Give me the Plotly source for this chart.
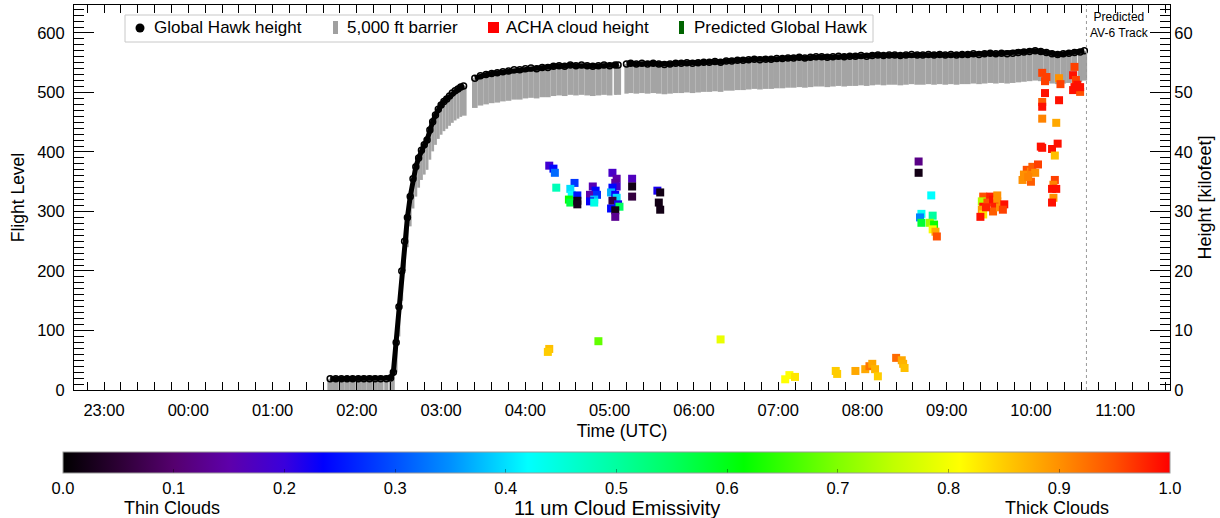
import plotly.graph_objects as go
from datetime import datetime, timedelta

# ---------------------------------------------------------------------------
# Data
# ---------------------------------------------------------------------------
# Global Hawk flight level (hundreds of feet) against UTC clock time
gh_time = [
    "01:41", "01:45", "01:49", "01:53", "01:57", "02:01", "02:05", "02:09", "02:13",
    "02:17", "02:21", "02:24",
    "02:26", "02:28", "02:30", "02:32", "02:34", "02:36", "02:38", "02:40", "02:42",
    "02:44", "02:46", "02:48", "02:50", "02:52", "02:54", "02:56", "02:58", "03:00",
    "03:02", "03:04", "03:06", "03:08", "03:10", "03:12", "03:14", "03:16",
    "03:24", "03:28", "03:32", "03:36", "03:40", "03:44", "03:48", "03:52", "03:56",
    "04:00", "04:04", "04:08", "04:12", "04:16", "04:20", "04:24", "04:28", "04:32",
    "04:36", "04:40", "04:44", "04:48", "04:52", "04:56", "05:00", "05:04", "05:06",
    "05:12", "05:15", "05:19", "05:23", "05:27", "05:31", "05:35", "05:39", "05:43",
    "05:47", "05:51", "05:55", "05:59", "06:03", "06:07", "06:11", "06:15", "06:19",
    "06:23", "06:27", "06:31", "06:35", "06:39", "06:43", "06:47", "06:51", "06:55",
    "06:59", "07:03", "07:07", "07:11", "07:15", "07:19", "07:23", "07:27", "07:31",
    "07:35", "07:39", "07:43", "07:47", "07:51", "07:55", "07:59", "08:03", "08:07",
    "08:11", "08:15", "08:19", "08:23", "08:27", "08:31", "08:35", "08:39", "08:43",
    "08:47", "08:51", "08:55", "08:59", "09:03", "09:07", "09:11", "09:15", "09:19",
    "09:23", "09:27", "09:31", "09:35", "09:39", "09:43", "09:47", "09:51", "09:55",
    "09:59", "10:03", "10:07", "10:11", "10:15", "10:19", "10:23", "10:27", "10:31",
    "10:35", "10:38",
]
gh_fl = [
    19, 19, 19, 19, 19, 19, 19, 19, 19,
    19, 19, 20,
    30, 80, 140, 200, 250, 290, 325, 355, 375,
    390, 403, 412, 420, 437, 451, 462, 472, 479,
    485, 489, 494, 499, 503, 506, 509, 511,
    524, 528, 530, 532, 533, 535, 536, 538, 538,
    540, 541, 540, 542, 542, 544, 545, 544, 546,
    545, 546, 545, 544, 545, 546, 545, 546, 546,
    548, 549, 548, 549, 548, 549, 548, 547, 548,
    549, 549, 550, 549, 550, 551, 551, 552, 551,
    553, 553, 554, 554, 555, 556, 555, 556, 556,
    557, 557, 558, 558, 559, 558, 559, 560, 560,
    559, 560, 561, 560, 561, 561, 562, 561, 562,
    563, 562, 563, 563, 562, 563, 564, 563, 563,
    564, 563, 564, 563, 564, 563, 564, 564, 565,
    564, 565, 566, 565, 566, 565, 566, 567, 568,
    569, 570, 569, 567, 565, 564, 565, 566, 567,
    568, 570,
]

# Depth of the safety barrier below the aircraft (5,000 ft = 50 flight levels)
barrier_depth = 50

# ACHA retrieved cloud-top heights with 11 um emissivity
cloud_time = [
    "04:17", "04:20", "04:21", "04:22", "04:35", "04:32", "04:33", "04:37", "04:31",
    "04:32", "04:37", "04:37", "04:48", "04:50", "04:46", "04:51", "04:49", "04:46",
    "04:49", "05:02", "05:05", "05:04", "05:05", "05:02", "05:01", "05:04", "05:05",
    "05:02", "05:06", "05:07", "05:01", "05:04", "05:04", "05:16", "05:16", "05:16",
    "05:34", "05:36", "05:35", "05:36",
    "08:40", "08:40", "08:49", "08:42", "08:41", "08:42", "08:50", "08:48", "08:51",
    "08:50", "08:52", "08:53",
    "09:26", "09:25", "09:26", "09:25", "09:26", "09:24", "09:31", "09:29", "09:33",
    "09:36", "09:36", "09:34", "09:33", "09:38", "09:41", "09:40", "09:28",
    "09:57", "09:55", "09:54", "10:00", "10:01", "10:05", "10:03", "10:00", "09:58",
    "10:08", "10:11", "10:10", "10:10", "10:08", "10:08", "10:08", "10:07", "10:08",
    "10:20", "10:21", "10:20", "10:18", "10:19", "10:15", "10:17", "10:17", "10:16",
    "10:15", "10:18", "10:16", "10:15",
    "10:31", "10:30", "10:32", "10:33", "10:30", "10:35", "10:31", "10:35",
    "04:17", "04:16", "04:52", "06:19", "07:05", "07:08", "07:12", "07:41", "07:42",
    "07:55", "08:02", "08:05", "08:07", "08:09", "08:11", "08:24", "08:28", "08:29",
    "08:30",
]
cloud_fl = [
    377, 372, 365, 340, 348, 338, 328, 327, 320,
    315, 318, 312, 342, 335, 328, 328, 320, 317,
    315, 365, 355, 348, 342, 340, 332, 328, 323,
    318, 312, 308, 305, 302, 291, 355, 342, 325,
    335, 332, 315, 303,
    384, 365, 327, 296, 290, 281, 293, 281, 278,
    270, 266, 258,
    325, 317, 308, 303, 295, 291, 325, 315, 320,
    327, 317, 308, 300, 307, 312, 303, 307,
    370, 362, 353, 367, 375, 379, 365, 350, 358,
    533, 526, 519, 499, 484, 476, 456, 409, 407,
    524, 514, 487, 449, 414, 405, 394, 353, 345,
    338, 338, 323, 315,
    543, 529, 521, 513, 504, 501, 509, 509,
    69, 64, 82, 85, 18, 25, 22, 32, 27,
    32, 35, 40, 44, 35, 23, 54, 50, 44,
    37,
]
cloud_emis = [
    0.19, 0.24, 0.32, 0.48, 0.28, 0.40, 0.42, 0.25, 0.62,
    0.57, 0.02, 0.03, 0.16, 0.24, 0.15, 0.27, 0.38, 0.23,
    0.44, 0.18, 0.15, 0.14, 0.18, 0.24, 0.37, 0.23, 0.40,
    0.06, 0.22, 0.55, 0.24, 0.02, 0.13, 0.17, 0.02, 0.06,
    0.22, 0.02, 0.02, 0.02,
    0.12, 0.02, 0.42, 0.43, 0.34, 0.58, 0.50, 0.72, 0.62,
    0.80, 0.88, 0.95,
    0.95, 0.74, 0.99, 0.89, 0.83, 0.99, 0.98, 0.95, 0.99,
    0.90, 0.90, 0.98, 0.94, 0.90, 0.99, 0.96, 0.98,
    0.95, 0.90, 0.90, 0.91, 0.94, 0.96, 0.90, 0.94, 0.91,
    0.96, 0.96, 0.96, 0.99, 0.94, 0.99, 0.91, 0.99, 0.99,
    0.90, 0.96, 0.99, 0.88, 0.99, 0.99, 0.86, 0.96, 0.91,
    0.99, 0.99, 0.90, 0.99,
    0.96, 0.99, 0.96, 0.99, 0.99, 0.95, 0.99, 0.99,
    0.86, 0.85, 0.68, 0.79, 0.81, 0.81, 0.83, 0.85, 0.85,
    0.88, 0.88, 0.92, 0.88, 0.87, 0.85, 0.93, 0.88, 0.87,
    0.86,
]

# Predicted Global Hawk track (no points in this window)
pred_time = []
pred_fl = []

# Start of the predicted AV-6 track
predicted_start = "10:39:30"

# Axis windows and ticks
x_start, x_end = "22:38:36", "11:39:00"
x_tick0 = "23:00"
fl_range = [0, 647]
fl_ticks = [0, 100, 200, 300, 400, 500, 600]
emis_ticks = [0.0, 0.1, 0.2, 0.3, 0.4, 0.5, 0.6, 0.7, 0.8, 0.9, 1.0]

# ---------------------------------------------------------------------------
# Helpers
# ---------------------------------------------------------------------------
FLIGHT_DAY = datetime(2016, 2, 11)


def clock(s):
    parts = [int(p) for p in s.split(":")]
    while len(parts) < 3:
        parts.append(0)
    h, m, sec = parts
    t = FLIGHT_DAY + timedelta(hours=h, minutes=m, seconds=sec)
    if h >= 12:
        t -= timedelta(days=1)
    return t


gh_dt = [clock(t) for t in gh_time]
cloud_dt = [clock(t) for t in cloud_time]

# Break the track where the sampling has a hole longer than five minutes
GAP = timedelta(minutes=5)
track_x, track_y = [], []
for i, (t, v) in enumerate(zip(gh_dt, gh_fl)):
    if i and t - gh_dt[i - 1] > GAP:
        track_x.append(None)
        track_y.append(None)
    track_x.append(t)
    track_y.append(v)

# Bar widths follow the sampling interval, leaving real data gaps open
max_w = 4.3 * 60000
bar_w = []
for i, t in enumerate(gh_dt):
    if i + 1 < len(gh_dt):
        d = (gh_dt[i + 1] - t).total_seconds() * 1000
    else:
        d = 4 * 60000
    bar_w.append(min(d, max_w))

# Page geometry of the plotting area (pixels)
W, H = 1220, 518
L, R, T, B = 74, 1170, 5, 390


def px(xp):
    return (xp - L) / (R - L)


def py(yp):
    return (B - yp) / (B - T)


FONT = "Liberation Sans, Arial, Helvetica, sans-serif"
TICK_SIZE = 16.5

colorscale = [
    [0.00, "#000000"], [0.05, "#2c0034"], [0.10, "#55006e"], [0.15, "#5e00aa"],
    [0.20, "#3a00dc"], [0.235, "#0000ff"], [0.30, "#0050ff"], [0.35, "#0090ff"],
    [0.42, "#00ffff"], [0.50, "#00ffa0"], [0.55, "#00ff60"], [0.615, "#00ff00"],
    [0.70, "#80ff00"], [0.75, "#c0ff00"], [0.81, "#ffff00"], [0.85, "#ffcc00"],
    [0.90, "#ff9000"], [0.95, "#ff5000"], [1.00, "#ff0000"],
]

# ---------------------------------------------------------------------------
# Figure
# ---------------------------------------------------------------------------
fig = go.Figure()

# 5,000 ft barrier beneath the aircraft
fig.add_trace(go.Bar(
    x=gh_dt,
    y=[barrier_depth] * len(gh_dt),
    base=[v - barrier_depth for v in gh_fl],
    width=bar_w,
    marker=dict(color="#a4a4a4", line=dict(width=0)),
    showlegend=False,
    hoverinfo="skip",
))

# Global Hawk height
fig.add_trace(go.Scatter(
    x=track_x, y=track_y, mode="lines+markers", connectgaps=False,
    line=dict(color="black", width=5),
    marker=dict(symbol="circle-open", size=6, color="black", line=dict(width=1.5, color="black")),
    showlegend=False,
))

# Height in kilofeet on the right axis
fig.add_trace(go.Scatter(
    x=gh_dt, y=[v / 10 for v in gh_fl], yaxis="y2", mode="lines",
    line=dict(width=0), opacity=0, showlegend=False, hoverinfo="skip",
))

# Predicted Global Hawk
fig.add_trace(go.Scatter(
    x=[clock(t) for t in pred_time], y=pred_fl, mode="markers",
    marker=dict(color="#006400"), showlegend=False,
))

# ACHA cloud heights
fig.add_trace(go.Scatter(
    x=cloud_dt, y=cloud_fl, mode="markers",
    marker=dict(
        symbol="square", size=8, color=cloud_emis, cmin=0, cmax=1,
        colorscale=colorscale, line=dict(width=0),
        colorbar=dict(
            orientation="h", lenmode="pixels", len=1107,
            thicknessmode="pixels", thickness=21, xpad=0, ypad=0,
            x=px(616.5), xanchor="center", y=py(452), yanchor="top",
            outlinecolor="#9a9a9a", outlinewidth=1,
            tickvals=emis_ticks, ticktext=["%.1f" % v for v in emis_ticks],
            ticks="inside", ticklen=4, tickcolor="rgba(0,0,0,0.35)",
            tickfont=dict(family=FONT, size=TICK_SIZE, color="black"),
        ),
    ),
    showlegend=False,
))

axis_common = dict(
    showgrid=False, zeroline=False, showline=True, linecolor="black", linewidth=1,
    ticks="inside", tickcolor="black",
    tickfont=dict(family=FONT, size=TICK_SIZE, color="black"),
)

fig.update_layout(
    width=W, height=H,
    margin=dict(l=L, r=W - R, t=T, b=H - B, autoexpand=False),
    paper_bgcolor="white", plot_bgcolor="white",
    font=dict(family=FONT, size=TICK_SIZE, color="black"),
    barmode="overlay",
    xaxis=dict(
        axis_common, type="date", range=[clock(x_start), clock(x_end)],
        tick0=clock(x_tick0), dtick=3600000, tickformat="%H:%M", ticklen=8,
        mirror="allticks", ticklabelstandoff=5,
        minor=dict(dtick=720000, ticklen=4, ticks="inside", tickcolor="black"),
        title=dict(text="Time (UTC)", standoff=6, font=dict(family=FONT, size=17.5)),
    ),
    yaxis=dict(
        axis_common, range=fl_range, tickvals=fl_ticks, ticklen=20, mirror=True,
        ticklabelstandoff=5,
        minor=dict(dtick=10, ticklen=10, ticks="inside", tickcolor="black"),
        title=dict(text="Flight Level", standoff=8, font=dict(family=FONT, size=17.5)),
    ),
    yaxis2=dict(
        axis_common, range=[v / 10 for v in fl_range], overlaying="y", side="right",
        tickvals=[v / 10 for v in fl_ticks], ticklen=20,
        minor=dict(dtick=1, ticklen=10, ticks="inside", tickcolor="black"),
        title=dict(text="Height [kilofeet]", standoff=6, font=dict(family=FONT, size=18)),
    ),
)

# Predicted AV-6 track marker line
fig.add_shape(type="line", xref="x", yref="paper",
              x0=clock(predicted_start), x1=clock(predicted_start), y0=0, y1=1,
              line=dict(color="#9a9a9a", width=1, dash="dot"))
fig.add_annotation(xref="paper", yref="paper", x=px(1119), y=py(25),
                   text="Predicted<br>AV-6 Track", showarrow=False,
                   font=dict(family=FONT, size=12), xanchor="center", yanchor="middle",
                   align="center")

# Legend box
fig.add_shape(type="rect", xref="paper", yref="paper",
              x0=px(125), x1=px(873), y0=py(42), y1=py(15),
              line=dict(color="#c8c8c8", width=1), fillcolor="white", layer="above")
legend_items = [
    ("circle", 140, "black", "Global Hawk height", 152),
    ("bar", 335.5, "#a0a0a0", "5,000 ft barrier", 345),
    ("square", 493.5, "#ff0000", "ACHA cloud height", 504),
    ("bar", 681.5, "#006400", "Predicted Global Hawk", 692),
]
for kind, cx, col, label, tx in legend_items:
    if kind == "circle":
        fig.add_shape(type="circle", xref="paper", yref="paper",
                      x0=px(cx - 4.5), x1=px(cx + 4.5), y0=py(32.5), y1=py(23.5),
                      fillcolor=col, line=dict(color=col, width=0), layer="above")
    elif kind == "bar":
        fig.add_shape(type="rect", xref="paper", yref="paper",
                      x0=px(cx - 2.5), x1=px(cx + 2.5), y0=py(34), y1=py(21),
                      fillcolor=col, line=dict(width=0), layer="above")
    else:
        fig.add_shape(type="rect", xref="paper", yref="paper",
                      x0=px(cx - 5.5), x1=px(cx + 5.5), y0=py(33), y1=py(22),
                      fillcolor=col, line=dict(width=0), layer="above")
    fig.add_annotation(xref="paper", yref="paper", x=px(tx), y=py(27.5), text=label,
                       showarrow=False, xanchor="left", yanchor="middle",
                       font=dict(family=FONT, size=17, color="black"))

# Colorbar captions
for text, cx, size in [("Thin Clouds", 172, 18), ("11 um Cloud Emissivity", 616.5, 20),
                       ("Thick Clouds", 1057, 18)]:
    fig.add_annotation(xref="paper", yref="paper", x=px(cx), y=py(508), text=text,
                       showarrow=False, xanchor="center", yanchor="middle",
                       font=dict(family=FONT, size=size, color="black"))

fig.write_html("out.html")
